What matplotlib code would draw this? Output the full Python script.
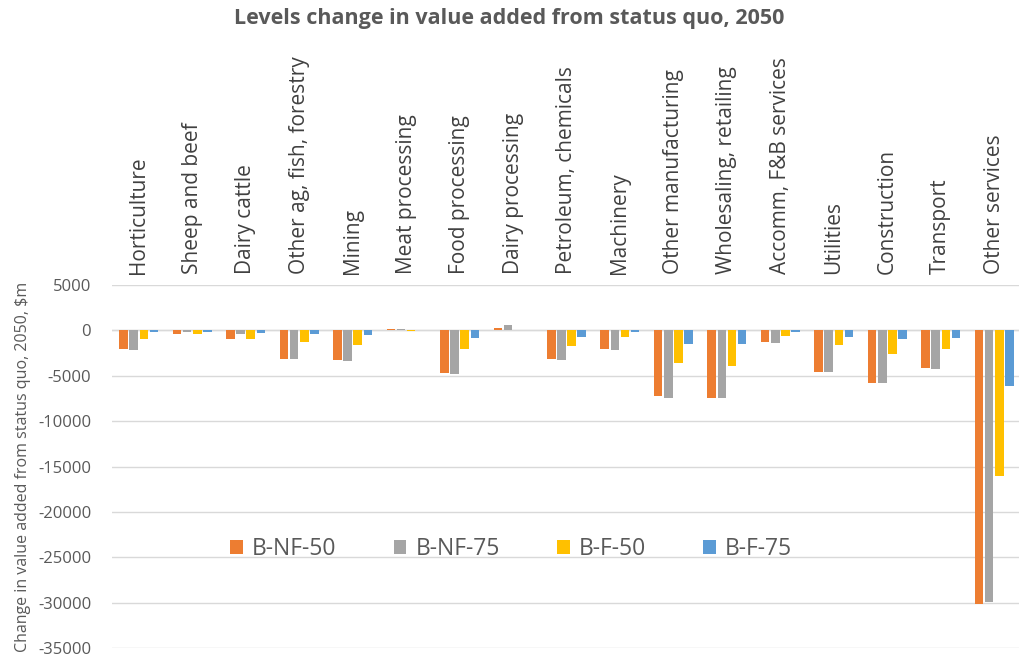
import numpy as np
import matplotlib
matplotlib.use('Agg')
from matplotlib import pyplot as plt

categories = ['Horticulture', 'Sheep and beef', 'Dairy cattle', 'Other ag, fish, forestry',
              'Mining', 'Meat processing', 'Food processing', 'Dairy processing',
              'Petroleum, chemicals', 'Machinery', 'Other manufacturing',
              'Wholesaling, retailing', 'Accomm, F&B services', 'Utilities',
              'Construction', 'Transport', 'Other services']

bnf50 = [-2100, -400, -900, -3100, -3300, 100, -4650, 300, -3200, -2000,
         -7200, -7500, -1250, -4550, -5750, -4150, -30200]
bnf75 = [-2200, -200, -450, -3150, -3400, 200, -4800, 550, -3300, -2200,
         -7400, -7400, -1350, -4550, -5850, -4250, -29900]
bf50 = [-900, -450, -900, -1300, -1650, -100, -2000, 0, -1700, -700,
        -3600, -3950, -600, -1650, -2650, -2000, -16000]
bf75 = [-200, -200, -300, -450, -550, 0, -800, 0, -700, -150,
        -1500, -1500, -200, -700, -950, -800, -6100]

series = [('B-NF-50', bnf50, '#ED7D31'),
          ('B-NF-75', bnf75, '#A5A5A5'),
          ('B-F-50', bf50, '#FFC000'),
          ('B-F-75', bf75, '#5B9BD5')]

plt.rcParams['font.family'] = ['Open Sans', 'DejaVu Sans']
plt.rcParams['axes.unicode_minus'] = False

fig = plt.figure(figsize=(10.19, 6.58), dpi=100)
ax = fig.add_axes([112 / 1019, 10 / 658, 909 / 1019, 363 / 658])

x = np.arange(len(categories))
width = 0.16
step = 0.19
for i, (name, vals, color) in enumerate(series):
    ax.bar(x + (i - 1.5) * step, vals, width, color=color, label=name, zorder=3)

ax.set_xlim(-0.5, len(categories) - 0.5)
ax.set_ylim(-35000, 5000)
ax.set_yticks(np.arange(-35000, 5001, 5000))
ax.grid(axis='y', color='#D9D9D9', linewidth=1, zorder=0)
ax.axhline(0, color='#D9D9D9', linewidth=1, zorder=1)
for s in ax.spines.values():
    s.set_visible(False)

ax.xaxis.set_ticks_position('top')
ax.set_xticks(x)
ax.set_xticklabels(categories, rotation=90, fontsize=15, color='#404040')
ax.tick_params(axis='x', length=0, pad=8)
ax.tick_params(axis='y', length=0, pad=15, labelsize=12, labelcolor='#595959')

ax.set_ylabel('Change in value added from status quo, 2050, $m', fontsize=11.5,
              color='#595959', labelpad=5)

fig.text(0.5, 0.972, 'Levels change in value added from status quo, 2050',
         ha='center', va='center', fontsize=15.5, fontweight='bold', color='#595959')

ax.legend(loc='center', bbox_to_anchor=(0.439, 0.272), ncol=4, frameon=False,
          fontsize=16.5, handlelength=0.55, handleheight=0.55, handletextpad=0.4,
          columnspacing=2.5, labelcolor='#595959')

fig.savefig('out.png', dpi=100)
